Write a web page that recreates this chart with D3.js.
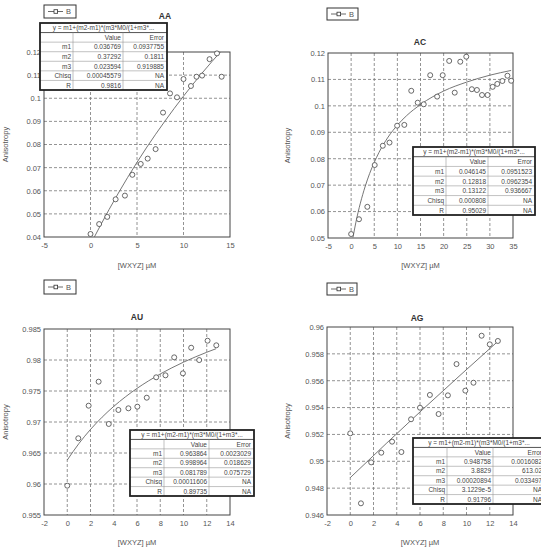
<!DOCTYPE html>
<html>
<head>
<meta charset="utf-8">
<script src="https://cdn.jsdelivr.net/npm/d3@7"></script>
<style>
body { margin: 0; background: #fff; }
text { font-family: "Liberation Sans", Arial, sans-serif; }
</style>
</head>
<body>
<div id="chart"></div>
<script>
// ---- AA
var aaX = [0, 0.93, 1.8, 2.7, 3.7, 4.5, 5.4, 6.15, 7.0, 7.8, 8.55, 9.3, 10.0, 10.8, 11.4, 12.0, 12.8, 13.6, 14.1];
var aaY = [0.0413, 0.0456, 0.0487, 0.0563, 0.0579, 0.0669, 0.0716, 0.0739, 0.0780, 0.0938, 0.1021, 0.1004, 0.1083, 0.1053, 0.1093, 0.1098, 0.1169, 0.1194, 0.1093];
var aaFitX = [0.4, 2, 4, 6, 8, 10, 12, 14.1];
var aaFitY = [0.0399, 0.0519, 0.0658, 0.0785, 0.0901, 0.1009, 0.1109, 0.1206];
var aaXTicks = ["-5", "0", "5", "10", "15"];
var aaYTicks = ["0.04", "0.05", "0.06", "0.07", "0.08", "0.09", "0.1", "0.11", "0.12"];
var aaRows = [["m1", "0.036769", "0.0937755"], ["m2", "0.37292", "0.1811"], ["m3", "0.023594", "0.919885"],
              ["Chisq", "0.00045579", "NA"], ["R", "0.9816", "NA"]];

// ---- AC
var acX = [0, 1.7, 3.5, 5.1, 6.85, 8.3, 9.95, 11.5, 13.0, 14.4, 15.7, 17.1, 18.6, 19.8, 21.2, 22.4, 23.6, 24.9, 26.1, 27.2, 28.3, 29.5, 30.6, 31.6, 32.7, 33.8, 34.6];
var acY = [0.0515, 0.0571, 0.0618, 0.0776, 0.0849, 0.0861, 0.0925, 0.0928, 0.1057, 0.1012, 0.1006, 0.1116, 0.1035, 0.1116, 0.1170, 0.1050, 0.1167, 0.1186, 0.1063, 0.1060, 0.1041, 0.1041, 0.1072, 0.1083, 0.1094, 0.1114, 0.1095];
var acFitX = [0.4, 1, 2, 3, 4, 5, 6, 8, 10, 12, 15, 20, 25, 30, 34.6];
var acFitY = [0.0502, 0.0557, 0.0632, 0.0693, 0.0744, 0.0786, 0.0823, 0.0882, 0.0927, 0.0963, 0.1005, 0.1056, 0.1090, 0.1116, 0.1134];
var acXTicks = ["-5", "0", "5", "10", "15", "20", "25", "30", "35"];
var acYTicks = ["0.05", "0.06", "0.07", "0.08", "0.09", "0.1", "0.11", "0.12"];
var acRows = [["m1", "0.046145", "0.0951523"], ["m2", "0.12818", "0.0962354"], ["m3", "0.13122", "0.936667"],
              ["Chisq", "0.000808", "NA"], ["R", "0.95029", "NA"]];

// ---- AU
var auX = [0, 0.95, 1.84, 2.7, 3.57, 4.4, 5.26, 6.03, 6.84, 7.65, 8.45, 9.2, 9.95, 10.66, 11.35, 12.07, 12.82];
var auY = [0.95973, 0.96737, 0.97263, 0.9765, 0.96968, 0.97194, 0.97221, 0.97247, 0.97392, 0.97721, 0.97753, 0.98043, 0.97785, 0.98198, 0.97999, 0.98311, 0.98237];
var auFitX = [0, 1, 2, 3, 4, 5, 6, 7, 8, 9, 10, 11, 12, 12.8];
var auFitY = [0.96386, 0.96652, 0.96880, 0.97078, 0.97252, 0.97405, 0.97542, 0.97664, 0.97775, 0.97874, 0.97965, 0.98048, 0.98125, 0.98182];
var auXTicks = ["-2", "0", "2", "4", "6", "8", "10", "12", "14"];
var auYTicks = ["0.955", "0.96", "0.965", "0.97", "0.975", "0.98", "0.985"];
var auRows = [["m1", "0.963864", "0.0023029"], ["m2", "0.998964", "0.018629"], ["m3", "0.081789", "0.075729"],
              ["Chisq", "0.00011606", "NA"], ["R", "0.89735", "NA"]];

// ---- AG
var agX = [0, 0.92, 1.8, 2.67, 3.6, 4.4, 5.23, 6.0, 6.85, 7.6, 8.4, 9.14, 9.9, 10.6, 11.3, 12.0, 12.7];
var agY = [0.95208, 0.94687, 0.94992, 0.95064, 0.95146, 0.95069, 0.95313, 0.95399, 0.95494, 0.95352, 0.95491, 0.95724, 0.95526, 0.95585, 0.95935, 0.95871, 0.95896];
var agFitX = [0, 6.18, 12.7];
var agFitY = [0.94878, 0.95382, 0.95893];
var agXTicks = ["-2", "0", "2", "4", "6", "8", "10", "12", "14"];
var agYTicks = ["0.946", "0.948", "0.95", "0.952", "0.954", "0.956", "0.958", "0.96"];
var agRows = [["m1", "0.948758", "0.0016082"], ["m2", "3.8829", "613.02"], ["m3", "0.00020894", "0.033497"],
              ["Chisq", "3.1229e-5", "NA"], ["R", "0.91796", "NA"]];

var fitTitle = "y = m1+(m2-m1)*(m3*M0/(1+m3*...";

var svg = d3.select("#chart").append("svg")
  .attr("width", 541).attr("height", 550);

// panel placement
var panels = [
  { name: "AA", x: aaX, y: aaY, fx: aaFitX, fy: aaFitY, xt: aaXTicks, yt: aaYTicks, rows: aaRows,
    box: [44, 52, 230, 237], title: [165, 19], legend: [44, 5, 32, 13], table: [40, 23, 127, 67, 73, 123], ylx: 8, xly: 268 },
  { name: "AC", x: acX, y: acY, fx: acFitX, fy: acFitY, xt: acXTicks, yt: acYTicks, rows: acRows,
    box: [328, 53, 513, 238], title: [420, 45], legend: [327, 8, 31, 12], table: [413, 147, 122, 68, 446, 488], ylx: 290, xly: 268 },
  { name: "AU", x: auX, y: auY, fx: auFitX, fy: auFitY, xt: auXTicks, yt: auYTicks, rows: auRows,
    box: [44, 329, 230, 515], title: [137, 320], legend: [44, 280, 32, 14], table: [130, 430, 124, 66, 164, 209], ylx: 8, xly: 545 },
  { name: "AG", x: agX, y: agY, fx: agFitX, fy: agFitY, xt: agXTicks, yt: agYTicks, rows: agRows,
    box: [327, 327, 513, 515], title: [417, 321], legend: [327, 283, 30, 12], table: [413, 438, 132, 66, 447, 493], ylx: 290, xly: 545 }
];

var textCol = "#555";

panels.forEach(function (p, k) {
  var xv = p.xt.map(Number), yv = p.yt.map(Number);
  var x = d3.scaleLinear().domain([xv[0], xv[xv.length - 1]]).range([p.box[0], p.box[2]]);
  var y = d3.scaleLinear().domain([yv[0], yv[yv.length - 1]]).range([p.box[3], p.box[1]]);
  var g = svg.append("g");

  // dashed grid
  g.selectAll(".vg").data(xv.slice(1, -1)).enter().append("line")
    .attr("x1", d => x(d)).attr("x2", d => x(d))
    .attr("y1", p.box[1]).attr("y2", p.box[3])
    .attr("stroke", "#777").attr("stroke-width", 0.8).attr("stroke-dasharray", "3,2");
  g.selectAll(".hg").data(yv.slice(1, -1)).enter().append("line")
    .attr("x1", p.box[0]).attr("x2", p.box[2])
    .attr("y1", d => y(d)).attr("y2", d => y(d))
    .attr("stroke", "#777").attr("stroke-width", 0.8).attr("stroke-dasharray", "3,2");

  g.append("rect")
    .attr("x", p.box[0]).attr("y", p.box[1])
    .attr("width", p.box[2] - p.box[0]).attr("height", p.box[3] - p.box[1])
    .attr("fill", "none").attr("stroke", "#444").attr("stroke-width", 1);

  // axes
  var ax = g.append("g").attr("transform", "translate(0," + p.box[3] + ")")
    .call(d3.axisBottom(x).tickValues(xv).tickFormat((d, i) => p.xt[i]).tickSize(0).tickPadding(6));
  var ay = g.append("g").attr("transform", "translate(" + p.box[0] + ",0)")
    .call(d3.axisLeft(y).tickValues(yv).tickFormat((d, i) => p.yt[i]).tickSize(0).tickPadding(3));
  [ax, ay].forEach(function (a) {
    a.select(".domain").remove();
    a.selectAll("text").attr("font-size", 7.5).attr("fill", textCol)
      .attr("font-family", "Liberation Sans, Arial, sans-serif");
  });

  // fit curve, clipped to plot
  var cid = "clip" + k;
  svg.append("clipPath").attr("id", cid).append("rect")
    .attr("x", p.box[0]).attr("y", p.box[1])
    .attr("width", p.box[2] - p.box[0]).attr("height", p.box[3] - p.box[1]);
  var fit = p.fx.map((v, i) => [v, p.fy[i]]);
  g.append("path").datum(fit)
    .attr("clip-path", "url(#" + cid + ")")
    .attr("d", d3.line().x(d => x(d[0])).y(d => y(d[1])).curve(d3.curveMonotoneX))
    .attr("fill", "none").attr("stroke", "#666").attr("stroke-width", 0.9);

  // points
  g.selectAll(".pt").data(p.x.map((v, i) => [v, p.y[i]])).enter().append("circle")
    .attr("cx", d => x(d[0])).attr("cy", d => y(d[1])).attr("r", 2.5)
    .attr("fill", "#fff").attr("stroke", "#444").attr("stroke-width", 0.8);

  // labels
  g.append("text").attr("x", p.title[0]).attr("y", p.title[1])
    .attr("text-anchor", "middle").attr("font-size", 8.5).attr("font-weight", "bold")
    .attr("fill", "#333").text(p.name);
  g.append("text").attr("x", (p.box[0] + p.box[2]) / 2).attr("y", p.xly)
    .attr("text-anchor", "middle").attr("font-size", 7.5).attr("fill", textCol).text("[WXYZ] \u00b5M");
  g.append("text").attr("transform", "translate(" + p.ylx + "," + (p.box[1] + p.box[3]) / 2 + ") rotate(-90)")
    .attr("text-anchor", "middle").attr("font-size", 7.5).attr("fill", textCol).text("Anisotropy");

  // legend
  var L = p.legend;
  g.append("rect").attr("x", L[0]).attr("y", L[1]).attr("width", L[2]).attr("height", L[3])
    .attr("fill", "#fff").attr("stroke", "#333").attr("stroke-width", 1);
  g.append("line").attr("x1", L[0] + 4).attr("x2", L[0] + 19)
    .attr("y1", L[1] + L[3] / 2).attr("y2", L[1] + L[3] / 2)
    .attr("stroke", "#444").attr("stroke-width", 0.8);
  g.append("rect").attr("x", L[0] + 10).attr("y", L[1] + L[3] / 2 - 1.8).attr("width", 3.6).attr("height", 3.6)
    .attr("fill", "#fff").attr("stroke", "#333").attr("stroke-width", 0.8);
  g.append("text").attr("x", L[0] + 22).attr("y", L[1] + L[3] / 2 + 2.6)
    .attr("font-size", 7.5).attr("fill", textCol).text("B");

  // parameter table
  var T = p.table, rh = T[3] / 7;
  var tg = g.append("g");
  tg.append("rect").attr("x", T[0]).attr("y", T[1]).attr("width", T[2]).attr("height", T[3]).attr("fill", "#fff");
  d3.range(2, 7).forEach(function (i) {
    tg.append("line").attr("x1", T[0]).attr("x2", T[0] + T[2])
      .attr("y1", T[1] + i * rh).attr("y2", T[1] + i * rh)
      .attr("stroke", "#999").attr("stroke-width", 0.6);
  });
  tg.append("line").attr("x1", T[0]).attr("x2", T[0] + T[2])
    .attr("y1", T[1] + rh).attr("y2", T[1] + rh).attr("stroke", "#555").attr("stroke-width", 1);
  [T[4], T[5]].forEach(function (cx) {
    tg.append("line").attr("x1", cx).attr("x2", cx).attr("y1", T[1] + rh).attr("y2", T[1] + T[3])
      .attr("stroke", "#999").attr("stroke-width", 0.6);
  });
  tg.append("text").attr("x", T[0] + T[2] / 2).attr("y", T[1] + rh - 2.3)
    .attr("text-anchor", "middle").attr("font-size", 6.5).attr("fill", "#444").text(fitTitle);
  var colR = [T[4] - 2, T[5] - 2, T[0] + T[2] - 3];
  var body = [["", "Value", "Error"]].concat(p.rows);
  body.forEach(function (r, i) {
    r.forEach(function (s, j) {
      tg.append("text").attr("x", colR[j]).attr("y", T[1] + (i + 2) * rh - 2.3)
        .attr("text-anchor", "end").attr("font-size", 6.5).attr("fill", "#444").text(s);
    });
  });
  tg.append("rect").attr("x", T[0]).attr("y", T[1]).attr("width", T[2]).attr("height", T[3])
    .attr("fill", "none").attr("stroke", "#222").attr("stroke-width", 1.8);
});
</script>
</body>
</html>
